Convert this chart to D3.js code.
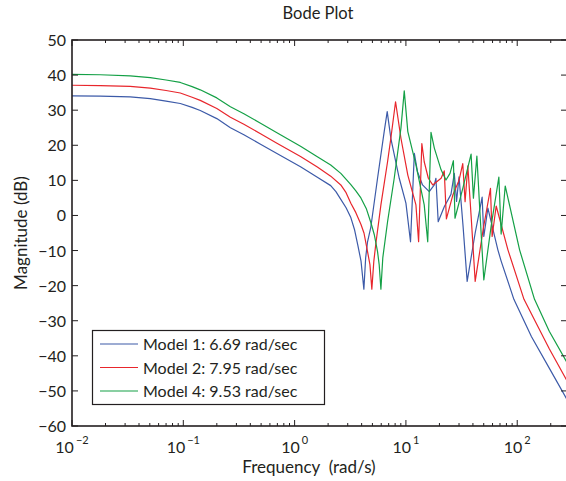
<!DOCTYPE html>
<html>
<head>
<meta charset="utf-8">
<script src="https://cdn.jsdelivr.net/npm/d3@7"></script>
<style>
  body { margin: 0; background: #fff; }
  text { font-family: Lato, "Open Sans", sans-serif; fill: #231f20; }
</style>
</head>
<body>
<div class="bode"></div>
<script>
// values: frequency (rad/s) and magnitude (dB)
const freq1 = [0.01, 0.0179, 0.0333, 0.0505, 0.07, 0.094, 0.12, 0.142, 0.2, 0.265, 0.35, 0.494, 0.7, 1.13, 1.6, 2.11, 2.35, 2.60, 2.9, 3.20, 3.45, 3.70, 3.95, 4.19, 4.35, 4.52, 4.84, 5.56, 6.38, 6.79, 7.32, 8.71, 10.0, 11.0, 11.9, 12.7, 14.1, 16.2, 18.0, 18.6, 19.5, 22.1, 25.4, 27.2, 28.5, 30.0, 32.6, 35.5, 41.9, 48.4, 50.1, 54.5, 67.0, 71.7, 93.3, 134, 194, 282];
const mag1 = [34.1, 34.0, 33.8, 33.3, 32.6, 31.9, 30.8, 29.9, 27.6, 25.0, 23.0, 20.3, 17.6, 13.9, 10.9, 8.5, 6.8, 4.6, 2.2, -0.6, -4.0, -8.5, -13, -21, -12, -7.5, -3.3, 10.6, 23.9, 29.6, 22, 10.6, 3.5, -7.5, 17.7, 12.5, 8.7, 6.8, 8.7, 10.6, -1.8, 2.5, 6, 12, 4, 11, -3, -18.8, -5, 5.2, -6, 2.1, -9.8, -13, -23.9, -34.5, -43.5, -52.6];

const freq2 = [0.01, 0.0179, 0.0333, 0.0505, 0.07, 0.094, 0.12, 0.142, 0.2, 0.265, 0.35, 0.494, 0.7, 1.13, 1.6, 2.11, 2.60, 2.9, 3.20, 3.55, 3.94, 4.2, 4.52, 4.75, 4.94, 5.15, 5.37, 5.96, 6.84, 7.32, 8.07, 9.02, 10.4, 12.3, 13.0, 13.9, 14.6, 15.9, 17.4, 20.7, 22.1, 23.1, 26.5, 30.0, 32.4, 34.0, 36.0, 38.5, 41.9, 49.4, 57.5, 59.5, 64.7, 82.5, 115, 134, 194, 282];
const mag2 = [37.1, 37.0, 36.8, 36.3, 35.6, 34.9, 33.7, 32.8, 30.5, 28.0, 26.0, 23.3, 20.5, 16.8, 13.8, 11.2, 8.7, 6.5, 3.5, 0.8, -2.5, -5, -10.3, -14, -21, -13, -8, 3, 15.3, 22, 32.4, 22, 11.5, 3, -7.5, 20.5, 15.3, 10.6, 8.7, 10.6, 12.7, -1, 6, 10, 14.8, 3.9, 14.1, 0, -18.8, -4, 7.7, -6, 2.7, -9.8, -23.9, -28, -38, -47.3];

const freq4 = [0.01, 0.0179, 0.0333, 0.0505, 0.07, 0.094, 0.12, 0.142, 0.2, 0.265, 0.35, 0.494, 0.7, 1.13, 1.6, 2.11, 2.60, 3.20, 3.55, 3.94, 4.4, 4.84, 5.2, 5.56, 5.75, 5.96, 6.2, 6.84, 7.85, 9.02, 9.66, 10.4, 12.3, 14.6, 15.7, 16.8, 18.0, 20.7, 22.9, 24.9, 26.7, 27.6, 32.6, 38.5, 40.4, 43.4, 46.4, 50.1, 58.3, 68.4, 71.7, 78.0, 105, 143, 194, 282];
const mag4 = [40.2, 40.1, 39.8, 39.3, 38.6, 37.9, 36.7, 35.8, 33.5, 31.0, 29.0, 26.3, 23.5, 19.7, 16.7, 14.4, 12.0, 8.8, 7.0, 5, 2, -2, -5.5, -10.3, -14, -21, -12, -1.8, 10.6, 24.9, 35.5, 23.9, 14.4, 3, -7.5, 23.7, 19.2, 13, 10.1, 12, 15.6, -0.8, 8, 17.5, 4.9, 16.9, 0, -18.4, -3, 10.9, -5.3, 8.4, -9.8, -23.9, -33, -42.1];

const seriesNames = ["Model 1: 6.69 rad/sec", "Model 2: 7.95 rad/sec", "Model 4: 9.53 rad/sec"];
const seriesColors = ["#3c5aa8", "#e8262c", "#14a046"];

const xMajorTicks = [0.01, 0.1, 1, 10, 100];
const xTickExponents = ["\u22122", "\u22121", "0", "1", "2"];
const yTicks = [-60, -50, -40, -30, -20, -10, 0, 10, 20, 30, 40, 50];

const widthPage = 566, heightPage = 481;
const plot = { left: 72, right: 567, top: 40, bottom: 426 };

const svg = d3.select(".bode")
    .append("svg")
    .attr("width", widthPage)
    .attr("height", heightPage);

const x = d3.scaleLog().domain([0.01, 280]).range([plot.left, plot.right]);
const y = d3.scaleLinear().domain([-60, 50]).range([plot.bottom, plot.top]);

// minor ticks for log axis
const xMinorTicks = [];
xMajorTicks.forEach(d => {
    for (let k = 2; k <= 9; k++) {
        if (d * k <= 280) xMinorTicks.push(d * k);
    }
});

const series = [d3.zip(freq1, mag1), d3.zip(freq2, mag2), d3.zip(freq4, mag4)];

const line = d3.line()
    .x(d => x(d[0]))
    .y(d => y(d[1]));

svg.append("defs").append("clipPath").attr("id", "clip")
    .append("rect")
    .attr("x", plot.left).attr("y", plot.top)
    .attr("width", plot.right - plot.left).attr("height", plot.bottom - plot.top);

svg.append("g")
    .attr("clip-path", "url(#clip)")
    .selectAll("path")
    .data(series)
    .enter()
    .append("path")
    .attr("d", line)
    .attr("fill", "none")
    .attr("stroke", (d, i) => seriesColors[i])
    .attr("stroke-width", 1.2)
    .attr("stroke-linejoin", "round");

// ticks, pointing inward on all four sides
const tickG = svg.append("g").attr("stroke", "#231f20").attr("stroke-width", 1);
[plot.bottom, plot.top].forEach((yy, side) => {
    const dir = side === 0 ? -1 : 1;
    tickG.selectAll(null).data(xMajorTicks).enter().append("line")
        .attr("x1", d => x(d)).attr("x2", d => x(d))
        .attr("y1", yy).attr("y2", yy + dir * 6);
    tickG.selectAll(null).data(xMinorTicks).enter().append("line")
        .attr("x1", d => x(d)).attr("x2", d => x(d))
        .attr("y1", yy).attr("y2", yy + dir * 3);
});
[plot.left, plot.right].forEach((xx, side) => {
    const dir = side === 0 ? 1 : -1;
    tickG.selectAll(null).data(yTicks).enter().append("line")
        .attr("x1", xx).attr("x2", xx + dir * 6)
        .attr("y1", d => y(d)).attr("y2", d => y(d));
});

// box
svg.append("rect")
    .attr("x", plot.left).attr("y", plot.top)
    .attr("width", plot.right - plot.left).attr("height", plot.bottom - plot.top)
    .attr("fill", "none")
    .attr("stroke", "#231f20")
    .attr("stroke-width", 1.6);

// y tick labels
svg.selectAll(".ylab")
    .data(yTicks)
    .enter()
    .append("text")
    .attr("x", plot.left - 6)
    .attr("y", d => y(d) + 6)
    .attr("text-anchor", "end")
    .style("font-size", "16px")
    .text(d => d3.format("d")(d));

// x tick labels 10^n
const xl = svg.selectAll(".xlab")
    .data(xMajorTicks)
    .enter()
    .append("text")
    .attr("x", d => x(d))
    .attr("y", plot.bottom + 27)
    .attr("text-anchor", "middle")
    .style("font-size", "16px");
xl.append("tspan").text("10");
xl.append("tspan")
    .attr("dy", -9)
    .attr("dx", 2)
    .style("font-size", "11px")
    .text((d, i) => xTickExponents[i]);

// titles
svg.append("text")
    .attr("x", 318).attr("y", 19)
    .attr("text-anchor", "middle")
    .style("font-size", "16.5px")
    .text("Bode Plot");

svg.append("text")
    .attr("x", 309).attr("y", 473)
    .attr("text-anchor", "middle")
    .style("font-size", "17px")
    .attr("xml:space", "preserve")
    .text("Frequency  (rad/s)");

svg.append("text")
    .attr("transform", "translate(27," + ((plot.top + plot.bottom) / 2) + ") rotate(-90)")
    .attr("text-anchor", "middle")
    .style("font-size", "17px")
    .text("Magnitude (dB)");

// legend
const legend = svg.append("g");
legend.append("rect")
    .attr("x", 92.5).attr("y", 330.5)
    .attr("width", 232).attr("height", 74)
    .attr("fill", "#fff")
    .attr("stroke", "#231f20")
    .attr("stroke-width", 1.2);

const rows = legend.selectAll(".row")
    .data(seriesNames)
    .enter()
    .append("g")
    .attr("transform", (d, i) => "translate(0," + (344 + i * 23.5) + ")");
rows.append("line")
    .attr("x1", 100).attr("x2", 138)
    .attr("stroke", (d, i) => seriesColors[i])
    .attr("stroke-width", 1.2);
rows.append("text")
    .attr("x", 143).attr("y", 6)
    .style("font-size", "16px")
    .text(d => d);
</script>
</body>
</html>
